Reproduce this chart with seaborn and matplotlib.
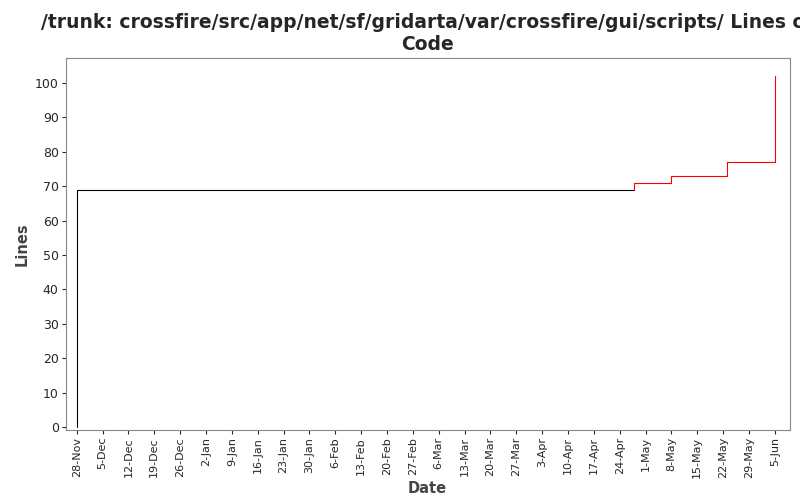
import matplotlib
matplotlib.use("Agg")
import matplotlib.pyplot as plt
import seaborn as sns
import pandas as pd

black_dates = ["2010-11-28", "2010-11-28", "2011-04-28"]
black_vals = [0, 69, 69]
red_dates = ["2011-04-28", "2011-04-28", "2011-05-08", "2011-05-23", "2011-06-05", "2011-06-05"]
red_vals = [69, 71, 73, 77, 77, 102]
title = "/trunk: crossfire/src/app/net/sf/gridarta/var/crossfire/gui/scripts/ Lines of\nCode"

sns.set_style("white")
plt.rcParams['font.family'] = ['DejaVu Sans']
fig, ax = plt.subplots(figsize=(8, 5), dpi=100)
fig.subplots_adjust(left=0.082, right=0.987, top=0.884, bottom=0.14)

bd = pd.DataFrame({"d": pd.to_datetime(black_dates), "v": black_vals})
rd = pd.DataFrame({"d": pd.to_datetime(red_dates), "v": red_vals})
sns.lineplot(data=bd, x="d", y="v", ax=ax, color="black", lw=0.8, drawstyle="steps-post", estimator=None, sort=False)
sns.lineplot(data=rd, x="d", y="v", ax=ax, color="red", lw=0.8, drawstyle="steps-post", estimator=None, sort=False)

ax.set_xlim(pd.Timestamp("2010-11-25"), pd.Timestamp("2011-06-09"))
ax.set_ylim(-0.9, 107.3)
ax.set_yticks(range(0, 101, 10))
ticks = pd.date_range("2010-11-28", "2011-06-05", freq="7D")
ax.set_xticks(ticks)
ax.set_xticklabels([f"{t.day}-{t.strftime('%b')}" for t in ticks], rotation=90, fontsize=8)
ax.tick_params(axis="y", labelsize=9)
ax.tick_params(direction="out", length=3, pad=2, left=True, bottom=True)
for s in ax.spines.values():
    s.set_color("#888888"); s.set_linewidth(0.8)
ax.set_xlabel("Date", fontsize=10.5, fontweight="bold", color="#444444", labelpad=2)
ax.set_ylabel("Lines", fontsize=10.5, fontweight="bold", color="#444444")
ax.set_title(title, fontsize=13.5, fontweight="bold", pad=6)
fig.savefig("out.png")
